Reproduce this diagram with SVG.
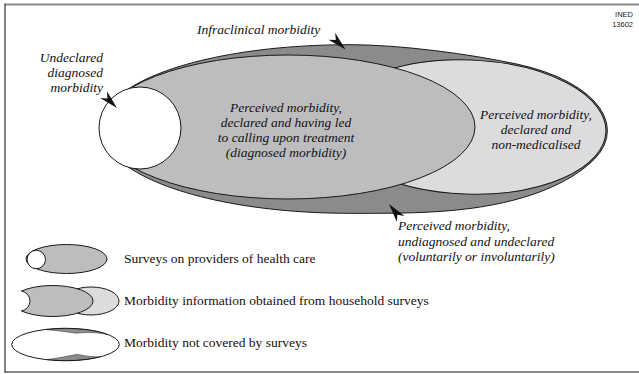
<svg xmlns="http://www.w3.org/2000/svg" width="639" height="374" viewBox="0 0 639 374">
<style>
.ol{stroke:#1a1a1a;stroke-width:1;stroke-linejoin:round}
.dark{fill:#8b8b8d}
.mid{fill:#bdbdbf}
.light{fill:#dcdcde}
.white{fill:#ffffff}
.lbl{font-family:"Liberation Serif","Times New Roman",serif;font-style:italic;font-size:13.5px;fill:#111}
.leg{font-family:"Liberation Serif","Times New Roman",serif;font-size:13.5px;fill:#111}
.ined{font-family:"Liberation Sans",Arial,sans-serif;font-size:7.5px;fill:#222}
</style>
<defs>
<path id="ah" d="M0,0 L-19,-4.8 L-13.5,0 L-19,4.8 Z" fill="#111"/>
</defs>
<rect width="639" height="374" fill="#fff"/>
<g id="frame">
<line x1="5" y1="4.5" x2="639" y2="4.5" stroke="#8a8a8a" stroke-width="2"/>
<line x1="5" y1="372" x2="639" y2="372" stroke="#8a8a8a" stroke-width="2"/>
<line x1="5" y1="3.5" x2="5" y2="373" stroke="#333" stroke-width="1.2"/>
</g>
<g id="ined">
<text class="ined" x="633" y="16.5" text-anchor="end">INED</text>
<text class="ined" x="633" y="26.5" text-anchor="end">13602</text>
</g>
<g id="infraclinical">
<path class="dark ol" d="M124 92 C164 63 250 44.7 350 44.7 C400 44.7 469 53.8 517.9 64.3 A139.5 68.5 2 0 1 587.5 165.4 C570 180 535 200 470 208.5 C430 213.7 390 213.3 350 213.3 C250 213.3 164 194 124 164 L110 128 Z"/>
<text class="lbl" x="197" y="34">Infraclinical morbidity</text>
</g>
<g id="declared-non-medicalised">
<ellipse class="light ol" cx="468" cy="127" rx="138" ry="67" transform="rotate(2 468 127)"/>
<text class="lbl" text-anchor="middle"><tspan x="536" y="119">Perceived morbidity,</tspan><tspan x="536" y="134">declared and</tspan><tspan x="536" y="149">non-medicalised</tspan></text>
</g>
<g id="diagnosed">
<ellipse class="mid ol" cx="288" cy="127" rx="187" ry="72"/>
<text class="lbl" text-anchor="middle"><tspan x="286" y="111.5">Perceived morbidity,</tspan><tspan x="286" y="126.5">declared and having led</tspan><tspan x="286" y="141.5">to calling upon treatment</tspan><tspan x="286" y="156.5">(diagnosed morbidity)</tspan></text>
</g>
<g id="undeclared-diagnosed">
<circle class="white ol" cx="140" cy="128" r="41"/>
<text class="lbl" text-anchor="end"><tspan x="103" y="61.5">Undeclared</tspan><tspan x="103" y="76.5">diagnosed</tspan><tspan x="103" y="91.5">morbidity</tspan></text>
</g>
<g id="undiagnosed-undeclared">
<text class="lbl"><tspan x="398" y="230">Perceived morbidity,</tspan><tspan x="398" y="245.5">undiagnosed and undeclared</tspan><tspan x="398" y="261">(voluntarily or involuntarily)</tspan></text>
</g>
<g id="connectors">
<use href="#ah" transform="translate(117 108) rotate(45)"/>
<use href="#ah" transform="translate(345.5 49.5) rotate(44)"/>
<use href="#ah" transform="translate(389 204) rotate(232)"/>
</g>
<g id="legend-providers">
<ellipse class="mid ol" cx="66.5" cy="259" rx="40.5" ry="14.5"/>
<circle class="white ol" cx="36.3" cy="259.5" r="9.2"/>
<text class="leg" x="124" y="263">Surveys on providers of health care</text>
</g>
<g id="legend-household">
<ellipse class="light ol" cx="91" cy="301" rx="28" ry="14"/>
<path class="mid ol" d="M21.4 291.1 A40.5 15.5 0 1 1 21.4 310.9 A10 10 0 0 0 21.4 291.1 Z"/>
<text class="leg" x="124" y="304.5">Morbidity information obtained from household surveys</text>
</g>
<g id="legend-not-covered">
<ellipse class="white" cx="65.5" cy="344.5" rx="53.8" ry="16.2"/>
<path class="dark" stroke="#333" stroke-width="0.5" d="M45 329.5 A53.8 16.2 0 0 1 108 334.6 Q95 331.5 76 333.2 Q62 331 45 329.5 Z"/>
<path class="dark" stroke="#333" stroke-width="0.5" d="M47 359.7 Q62 357.5 77 354.3 Q88 357 100 356.9 A53.8 16.2 0 0 1 47 359.7 Z"/>
<ellipse class="ol" fill="none" cx="65.5" cy="344.5" rx="53.8" ry="16.2" stroke-width="1.2"/>
<text class="leg" x="124" y="347">Morbidity not covered by surveys</text>
</g>
</svg>
